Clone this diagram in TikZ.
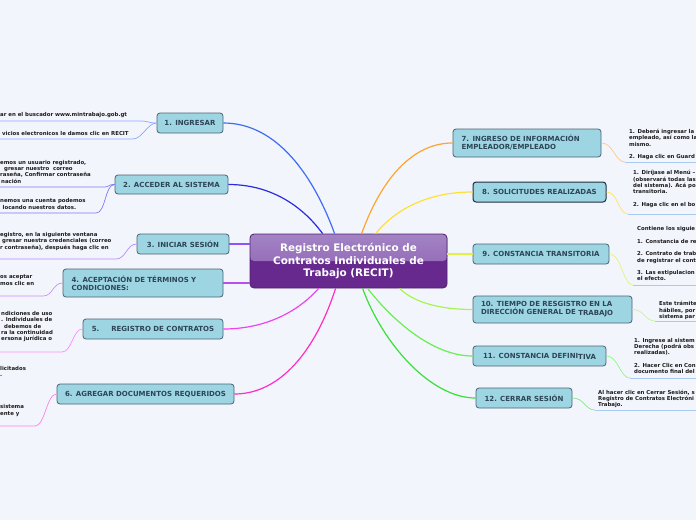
\documentclass[tikz,border=0pt]{standalone}
\usepackage{fontspec}
\setmainfont{DejaVu Sans}
\usetikzlibrary{calc}
\definecolor{bgc}{HTML}{F3F5FD}
\definecolor{boxc}{HTML}{9DD5E2}
\definecolor{bordc}{HTML}{4B6474}
\definecolor{bordk}{HTML}{1F3040}
\definecolor{labc}{HTML}{2D4556}
\definecolor{leafc}{HTML}{1C1C1C}
\definecolor{ctop}{HTML}{A383C4}
\definecolor{cmid}{HTML}{8A5BAE}
\definecolor{cdark}{HTML}{67298E}
\definecolor{cbord}{HTML}{4E2270}
\definecolor{ka}{HTML}{3D6CF5}
\definecolor{kb}{HTML}{2B2BDF}
\definecolor{kc}{HTML}{8F52FA}
\definecolor{kd}{HTML}{B552EE}
\definecolor{ke}{HTML}{EE44EE}
\definecolor{kf}{HTML}{FF2EC4}
\definecolor{kg}{HTML}{FFA52A}
\definecolor{kh}{HTML}{FFE033}
\definecolor{ki}{HTML}{E2F245}
\definecolor{kj}{HTML}{A6F54A}
\definecolor{kk}{HTML}{66F04A}
\definecolor{kl}{HTML}{38E038}
\definecolor{sa}{HTML}{8AA6FF}
\definecolor{sb}{HTML}{7B7BF2}
\definecolor{sc}{HTML}{B48CFF}
\definecolor{sd}{HTML}{D38CF8}
\definecolor{se}{HTML}{FF8CFF}
\definecolor{sf}{HTML}{FF80E6}
\definecolor{sg}{HTML}{FFC78A}
\definecolor{sh}{HTML}{FFE36A}
\definecolor{si}{HTML}{E6F27A}
\definecolor{sj}{HTML}{C4F78C}
\definecolor{sk}{HTML}{95F28C}
\definecolor{sl}{HTML}{84E884}
\definecolor{ulc}{HTML}{A9CBEF}
\newcommand\myst{\rule{0pt}{4pt}}
\begin{document}
\begin{tikzpicture}[x=1pt,y=-1pt,
  branch/.style={draw=bordc, line width=0.8pt, fill=boxc, rounded corners=3pt, text=labc,
    font=\fontsize{7}{8}\selectfont\bfseries, inner sep=0pt, align=center},
  leaf/.style={anchor=north west, inner sep=0pt, align=left, text=leafc,
    font=\fontsize{5.4}{6.3}\selectfont\bfseries},
  conn/.style={line width=1.2pt},
  sub/.style={line width=0.7pt},
  ulr/.style={line width=1pt, ulc}]
\useasboundingbox (0,0) rectangle (696,520);
\fill[bgc] (0,0) rectangle (696,520);
\clip (0,0) rectangle (696,520);

% central node
\node[draw=cbord, line width=0.8pt, rounded corners=4pt, fill=cdark, minimum width=197pt,
  minimum height=54pt, inner sep=0pt, align=center, text=white,
  font=\fontsize{10.4}{12.6}\selectfont\bfseries,
  path picture={\fill[top color=ctop, bottom color=cmid] (path picture bounding box.north west) rectangle (path picture bounding box.east);}]
  (c) at (348.5,261) {Registro Electrónico de\\Contratos Individuales de\\Trabajo (RECIT)};

% branch nodes
\node[branch, minimum width=66pt, minimum height=20pt] (n1) at (190,123) {1. INGRESAR};
\node[branch, minimum width=113pt, minimum height=19pt] (n2) at (171.5,184.5) {2. ACCEDER AL SISTEMA};
\node[branch, minimum width=92pt, minimum height=20pt] (n3) at (183,244) {3. INICIAR SESIÓN};
\node[branch, text width=143pt, inner xsep=8.5pt, minimum height=28pt, align=left] (n4) at (143,283) {4. ACEPTACIÓN DE TÉRMINOS Y\\CONDICIONES:};
\node[branch, minimum width=140pt, minimum height=20pt] (n5) at (153,329) {5.\hspace{12pt}REGISTRO DE CONTRATOS};
\node[branch, minimum width=177pt, minimum height=20pt] (n6) at (145.5,394) {6. AGREGAR DOCUMENTOS REQUERIDOS};
\node[branch, text width=131pt, inner xsep=8.5pt, minimum height=28pt, align=left] (n7) at (527,143) {7. INGRESO DE INFORMACIÓN\\EMPLEADOR/EMPLEADO};
\node[branch, draw=bordk, line width=1pt, minimum width=133pt, minimum height=20pt] (n8) at (539.5,192) {8. SOLICITUDES REALIZADAS};
\node[branch, minimum width=136pt, minimum height=20pt] (n9) at (541,254) {9. CONSTANCIA TRANSITORIA};
\node[branch, text width=143pt, inner xsep=8pt, minimum height=27pt, align=left] (n10) at (552.5,309.5) {10. TIEMPO DE RESGISTRO EN LA\\DIRECCIÓN GENERAL DE \raisebox{-1pt}{TRABAJO}};
\node[branch, minimum width=133pt, minimum height=20pt] (n11) at (539.5,356) {11. CONSTANCIA DEFINI\raisebox{-0.8pt}{TIVA}};
\node[branch, minimum width=96pt, minimum height=20pt] (n12) at (524,398) {12. CERRAR SESIÓN};

% main connectors
\draw[conn, ka] ([xshift=85pt]c.north west) .. controls +(-20,-55) and +(55,0) .. (n1.east);
\draw[conn, kb] ([xshift=73pt]c.north west) .. controls +(-22,-30) and +(40,0) .. (n2.east);
\draw[conn, kc] ([yshift=17pt]c.west) -- (n3.east);
\draw[conn, kd] ([yshift=-22pt]c.west) -- (n4.east);
\draw[conn, ke] ([xshift=69pt]c.south west) .. controls +(-24,27) and +(37,0) .. (n5.east);
\draw[conn, kf] ([xshift=86pt]c.south west) .. controls +(-20,62) and +(46,0) .. (n6.east);
\draw[conn, kg] ([xshift=112pt]c.north west) .. controls +(20,-55) and +(-40,0) .. (n7.west);
\draw[conn, kh] ([xshift=126pt]c.north west) .. controls +(24,-29) and +(-38,0) .. (n8.west);
\draw[conn, ki] ([yshift=7pt]c.east) -- (n9.west);
\draw[conn, kj] ([xshift=150pt]c.south west) .. controls +(15,15) and +(-30,0) .. (n10.west);
\draw[conn, kk] ([xshift=118pt]c.south west) .. controls +(25,32) and +(-40,0) .. (n11.west);
\draw[conn, kl] ([xshift=113pt]c.south west) .. controls +(20,55) and +(-45,0) .. (n12.west);

% underline end points
\coordinate (u1a) at (140,121);
\coordinate (u1b) at (133,139);
\coordinate (u2a) at (103,187);
\coordinate (u2b) at (96,213);
\coordinate (u3) at (116,259);
\coordinate (u4) at (43,296);
\coordinate (u5) at (62,352);
\coordinate (u6) at (35,426);
\coordinate (v7) at (625,162);
\coordinate (v8) at (628,214);
\coordinate (v9) at (633,285);
\coordinate (v10) at (655,321);
\coordinate (v11) at (630,378);
\coordinate (v12) at (595,410);

% left sub connectors
\draw[sub, sa] (n1.west) .. controls +(-9,0) and +(9,0) .. (u1a) -- +(-150,0);
\draw[sub, sa] (n1.west) .. controls +(-9,0) and +(9,0) .. (u1b) -- +(-150,0);
\draw[sub, sb] (n2.west) .. controls +(-8,0) and +(8,0) .. (u2a) -- +(-150,0);
\draw[sub, sb] (n2.west) .. controls +(-10,0) and +(10,0) .. (u2b) -- +(-150,0);
\draw[sub, sc] (n3.west) .. controls +(-10,0) and +(10,0) .. (u3) -- +(-150,0);
\draw[sub, sd] (n4.west) .. controls +(-10,0) and +(10,0) .. (u4) -- +(-150,0);
\draw[sub, se] (n5.west) .. controls +(-10,0) and +(10,0) .. (u5) -- +(-150,0);
\draw[sub, sf] (n6.west) .. controls +(-10,0) and +(10,0) .. (u6) -- +(-150,0);

% right sub connectors
\draw[sub, sg] (n7.east) .. controls +(12,0) and +(-10,0) .. (v7);
\draw[sub, sh] (n8.east) .. controls +(12,0) and +(-10,0) .. (v8);
\draw[sub, si] (n9.east) .. controls +(12,0) and +(-10,0) .. (v9);
\draw[sub, sj] (n10.east) .. controls +(12,0) and +(-10,0) .. (v10);
\draw[sub, sk] (n11.east) .. controls +(12,0) and +(-10,0) .. (v11);
\draw[sub, sl] (n12.east) .. controls +(12,0) and +(-10,0) .. (v12);
\draw[ulr] (v7) -- +(90,0);
\draw[ulr] (v8) -- +(90,0);
\draw[ulr] (v9) -- +(90,0);
\draw[ulr] (v10) -- +(90,0);
\draw[ulr] (v11) -- +(90,0);
\draw[ulr] (v12) -- +(110,0);

% left leaf texts
\node[leaf] (l1a) at (0,112.4) {\myst ar en el buscador www.mintrabajo.gob.gt};
\node[leaf] (l1b) at (2,130.9) {\myst vicios electronicos le damos clic en RECIT};
\node[leaf] (l2a) at (0,159.9) {\myst emos un usuario registrado,\\\hspace*{4pt}gresar nuestro\ \ correo\\raseña, Confirmar contraseña\\\hspace*{1pt}nación};
\node[leaf] (l2b) at (0,198.6) {\myst nemos una cuenta podemos\\\hspace*{2.5pt}locando nuestros datos.};
\node[leaf] (l3) at (0,232.2) {\myst egistro, en la siguiente ventana\\\hspace*{2pt}gresar nuestra credenciales (correo\\r contraseña), después haga clic en};
\node[leaf] (l4) at (0,274.6) {\myst os aceptar\\mos clic en};
\node[leaf] (l5) at (1,311.2) {\myst ndiciones de uso\\. Individuales de\\\hspace*{3pt}debemos de\\ra la continuidad\\ersona jurídica o};
\node[leaf] (l6a) at (0,365.9) {\myst licitados\\.};
\node[leaf] (l6b) at (0,404.6) {\myst sistema\\ente y};

% right leaf texts
\node[leaf] (r7) at (629,128.9) {\myst 1. Deberá ingresar la\\empleado, así como la\\mismo.\\[6.3pt]2. Haga clic en Guard};
\node[leaf] (r8) at (633,170.4) {\myst 1. Diríjase al Menú –\\(observará todas las\\del sistema). Acá po\\transitoria.\\[6.3pt]2. Haga clic en el bo};
\node[leaf] (r9) at (637,226.2) {\myst Contiene los siguie\\[6.3pt]1. Constancia de re\\[6.3pt]2. Contrato de trab\\de registrar el cont\\[6.3pt]3. Las estipulacion\\el efecto.};
\node[leaf] (r10) at (659,301.2) {\myst Este trámite\\hábiles, por\\sistema par};
\node[leaf] (r11) at (634,337.9) {\myst 1. Ingrese al sistem\\Derecha (podrá obs\\realizadas).\\[6.3pt]2. Hacer Clic en Con\\documento final del};
\node[leaf] (r12) at (598,389.6) {\myst Al hacer clic en Cerrar Sesión, s\\Registro de Contratos Electróni\\Trabajo.};
\end{tikzpicture}
\end{document}
